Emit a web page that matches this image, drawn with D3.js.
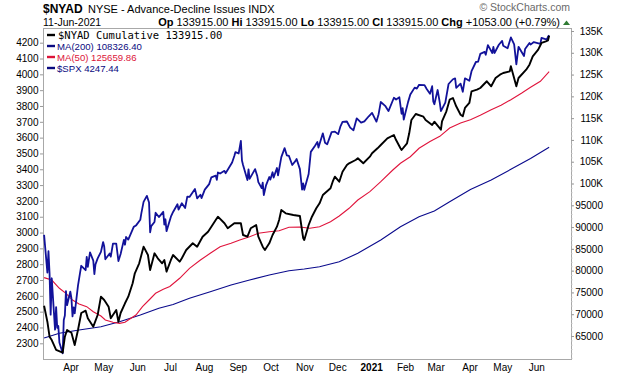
<!DOCTYPE html>
<html>
<head>
<meta charset="utf-8">
<script src="https://cdn.jsdelivr.net/npm/d3@7"></script>
<style>
  body { margin: 0; background: #fff; }
  svg { display: block; }
  text { font-family: "Liberation Sans", Arial, sans-serif; }
</style>
</head>
<body>
<svg id="chart"></svg>
<script>
const outerWidth = 620;
const outerHeight = 376;
const frame = { left: 43, right: 571, top: 28, bottom: 359 };

// S&P 500 closes (left axis)
const spx = [
  ["2020-03-06",2985],["2020-03-09",2747],["2020-03-10",2882],["2020-03-11",2741],["2020-03-12",2481],["2020-03-13",2711],
  ["2020-03-16",2386],["2020-03-17",2529],["2020-03-18",2398],["2020-03-19",2409],["2020-03-20",2305],["2020-03-23",2237],
  ["2020-03-24",2447],["2020-03-25",2476],["2020-03-26",2630],["2020-03-27",2541],["2020-03-30",2627],["2020-03-31",2585],
  ["2020-04-01",2470],["2020-04-02",2527],["2020-04-03",2489],["2020-04-06",2664],["2020-04-08",2750],["2020-04-09",2790],
  ["2020-04-13",2762],["2020-04-14",2846],["2020-04-15",2783],["2020-04-17",2875],["2020-04-20",2823],["2020-04-21",2737],
  ["2020-04-22",2799],["2020-04-24",2837],["2020-04-27",2878],["2020-04-29",2940],["2020-04-30",2912],["2020-05-01",2831],
  ["2020-05-05",2868],["2020-05-06",2848],["2020-05-08",2930],["2020-05-11",2930],["2020-05-13",2820],["2020-05-15",2864],
  ["2020-05-18",2954],["2020-05-19",2923],["2020-05-20",2972],["2020-05-22",2955],["2020-05-27",3036],["2020-05-29",3044],
  ["2020-06-02",3081],["2020-06-03",3123],["2020-06-05",3194],["2020-06-08",3232],["2020-06-10",3190],["2020-06-11",3002],
  ["2020-06-12",3041],["2020-06-15",3067],["2020-06-16",3125],["2020-06-19",3098],["2020-06-23",3131],["2020-06-24",3050],
  ["2020-06-25",3084],["2020-06-26",3009],["2020-06-30",3100],["2020-07-02",3130],["2020-07-06",3179],["2020-07-07",3145],
  ["2020-07-10",3185],["2020-07-13",3155],["2020-07-15",3227],["2020-07-17",3225],["2020-07-22",3276],["2020-07-24",3216],
  ["2020-07-27",3239],["2020-07-28",3218],["2020-07-31",3271],["2020-08-04",3306],["2020-08-06",3349],["2020-08-10",3360],
  ["2020-08-11",3333],["2020-08-12",3380],["2020-08-14",3373],["2020-08-18",3390],["2020-08-19",3375],["2020-08-21",3397],
  ["2020-08-25",3443],["2020-08-27",3484],["2020-08-28",3508],["2020-08-31",3500],["2020-09-02",3580],["2020-09-03",3455],
  ["2020-09-04",3427],["2020-09-08",3332],["2020-09-09",3399],["2020-09-10",3339],["2020-09-15",3401],["2020-09-17",3357],
  ["2020-09-18",3319],["2020-09-21",3281],["2020-09-22",3315],["2020-09-23",3237],["2020-09-25",3298],["2020-09-28",3351],
  ["2020-09-29",3335],["2020-10-01",3381],["2020-10-02",3348],["2020-10-05",3408],["2020-10-06",3361],["2020-10-09",3477],
  ["2020-10-12",3534],["2020-10-14",3488],["2020-10-16",3484],["2020-10-19",3427],["2020-10-22",3453],["2020-10-23",3465],
  ["2020-10-26",3401],["2020-10-28",3271],["2020-10-29",3310],["2020-10-30",3270],["2020-11-03",3370],["2020-11-05",3510],
  ["2020-11-09",3550],["2020-11-11",3573],["2020-11-12",3537],["2020-11-16",3627],["2020-11-18",3568],["2020-11-20",3558],
  ["2020-11-24",3635],["2020-11-27",3638],["2020-11-30",3622],["2020-12-02",3669],["2020-12-04",3699],["2020-12-08",3702],
  ["2020-12-11",3663],["2020-12-14",3647],["2020-12-17",3722],["2020-12-21",3695],["2020-12-24",3703],["2020-12-28",3735],
  ["2020-12-31",3756],["2021-01-04",3701],["2021-01-06",3748],["2021-01-08",3825],["2021-01-12",3801],["2021-01-15",3768],
  ["2021-01-20",3852],["2021-01-22",3841],["2021-01-25",3855],["2021-01-27",3751],["2021-01-28",3787],["2021-01-29",3714],
  ["2021-02-02",3826],["2021-02-04",3872],["2021-02-08",3916],["2021-02-10",3910],["2021-02-12",3934],["2021-02-17",3932],
  ["2021-02-19",3907],["2021-02-22",3877],["2021-02-24",3925],["2021-02-25",3829],["2021-02-26",3811],["2021-03-01",3901],
  ["2021-03-03",3820],["2021-03-04",3768],["2021-03-08",3821],["2021-03-11",3939],["2021-03-15",3969],["2021-03-17",3974],
  ["2021-03-18",3915],["2021-03-22",3941],["2021-03-24",3890],["2021-03-26",3975],["2021-03-30",3959],["2021-04-01",4020],
  ["2021-04-05",4078],["2021-04-07",4080],["2021-04-09",4129],["2021-04-13",4142],["2021-04-14",4124],["2021-04-16",4185],
  ["2021-04-20",4135],["2021-04-21",4174],["2021-04-22",4135],["2021-04-26",4187],["2021-04-29",4211],["2021-04-30",4181],
  ["2021-05-04",4165],["2021-05-07",4233],["2021-05-10",4189],["2021-05-12",4063],["2021-05-14",4174],["2021-05-19",4116],
  ["2021-05-20",4160],["2021-05-24",4198],["2021-05-25",4188],["2021-05-28",4204],["2021-06-03",4193],["2021-06-04",4230],
  ["2021-06-09",4220],["2021-06-10",4239],["2021-06-11",4247]
];

// NYSE cumulative advance-decline line (right axis)
const nyad = [
  ["2020-03-06",71950],["2020-03-09",68280],["2020-03-11",64840],["2020-03-13",64080],["2020-03-17",61790],["2020-03-23",61170],
  ["2020-03-25",64840],["2020-03-27",66380],["2020-03-31",65760],["2020-04-03",62940],["2020-04-06",66380],["2020-04-09",70280],
  ["2020-04-13",70810],["2020-04-15",69070],["2020-04-20",67140],["2020-04-24",69820],["2020-04-27",74020],["2020-04-30",73260],
  ["2020-05-04",71730],["2020-05-06",69070],["2020-05-11",70970],["2020-05-13",68280],["2020-05-15",70280],["2020-05-19",72510],
  ["2020-05-22",74020],["2020-05-26",77100],["2020-05-28",79390],["2020-06-01",81690],["2020-06-03",83590],["2020-06-05",85500],
  ["2020-06-09",83590],["2020-06-11",80150],["2020-06-15",83980],["2020-06-18",82840],["2020-06-22",81690],["2020-06-24",82450],
  ["2020-06-26",79760],["2020-06-30",82450],["2020-07-02",83590],["2020-07-08",82060],["2020-07-10",82840],["2020-07-14",84740],
  ["2020-07-20",86280],["2020-07-24",85500],["2020-07-29",87790],["2020-08-03",88940],["2020-08-06",90090],["2020-08-10",91620],
  ["2020-08-12",92380],["2020-08-18",90870],["2020-08-21",89720],["2020-08-27",90870],["2020-09-02",90870],["2020-09-04",88180],
  ["2020-09-08",87790],["2020-09-11",89720],["2020-09-16",90480],["2020-09-18",87790],["2020-09-22",85500],["2020-09-24",84740],
  ["2020-09-28",86280],["2020-10-01",88180],["2020-10-05",90090],["2020-10-07",91620],["2020-10-09",93920],["2020-10-13",93160],
  ["2020-10-20",92770],["2020-10-26",92540],["2020-10-29",87490],["2020-10-30",87030],["2020-11-03",90480],["2020-11-06",92380],
  ["2020-11-10",94310],["2020-11-13",95460],["2020-11-16",97360],["2020-11-23",98900],["2020-11-25",100410],["2020-11-27",101560],
  ["2020-12-01",100410],["2020-12-04",102710],["2020-12-08",104250],["2020-12-10",104640],["2020-12-16",105390],["2020-12-18",105790],
  ["2020-12-23",104640],["2020-12-29",106150],["2020-12-31",106930],["2021-01-05",108080],["2021-01-08",108840],["2021-01-14",110370],
  ["2021-01-20",111130],["2021-01-22",109980],["2021-01-26",108080],["2021-01-27",107690],["2021-02-01",109230],["2021-02-03",111520],
  ["2021-02-05",114570],["2021-02-09",115950],["2021-02-16",115330],["2021-02-18",114570],["2021-02-24",113430],["2021-02-26",114180],
  ["2021-03-04",112350],["2021-03-05",114280],["2021-03-09",116570],["2021-03-12",119230],["2021-03-15",119620],["2021-03-18",117720],
  ["2021-03-22",115790],["2021-03-24",115420],["2021-03-26",117330],["2021-03-30",118480],["2021-04-01",121160],["2021-04-06",121530],
  ["2021-04-09",121920],["2021-04-15",123460],["2021-04-19",122310],["2021-04-23",124210],["2021-04-27",124970],["2021-04-30",125360],
  ["2021-05-06",125750],["2021-05-07",126900],["2021-05-12",122310],["2021-05-14",124210],["2021-05-21",126120],["2021-05-24",127270],
  ["2021-05-27",129190],["2021-06-01",130710],["2021-06-04",132250],["2021-06-08",132640],["2021-06-10",132862],["2021-06-11",133915]
];

// 50-day moving average of $NYAD
const ma50 = [
  ["2020-03-06",78400],["2020-03-13",77850],["2020-03-20",75950],["2020-03-26",74800],["2020-04-01",73260],["2020-04-07",72350],
  ["2020-04-14",71730],["2020-04-20",70580],["2020-04-27",69590],["2020-05-01",68670],["2020-05-08",68150],["2020-05-14",67900],
  ["2020-05-19",68150],["2020-05-22",68670],["2020-05-29",69820],["2020-06-04",71730],["2020-06-10",73260],["2020-06-16",74800],
  ["2020-06-23",75720],["2020-06-29",76360],["2020-07-08",78250],["2020-07-17",80540],["2020-07-27",82450],["2020-08-05",83980],
  ["2020-08-14",85500],["2020-08-24",86280],["2020-09-01",87030],["2020-09-10",87790],["2020-09-18",88570],["2020-09-28",88940],
  ["2020-10-07",89170],["2020-10-16",89950],["2020-10-26",90020],["2020-11-04",89720],["2020-11-13",90090],["2020-11-23",91230],
  ["2020-12-01",92540],["2020-12-10",94310],["2020-12-18",96210],["2020-12-29",98120],["2021-01-08",100410],["2021-01-19",103100],
  ["2021-01-26",104640],["2021-02-04",106150],["2021-02-12",108080],["2021-02-22",109640],["2021-03-03",110830],["2021-03-12",112740],
  ["2021-03-22",113890],["2021-03-31",114640],["2021-04-09",115650],["2021-04-19",116940],["2021-04-28",117950],["2021-05-07",119230],
  ["2021-05-17",120770],["2021-05-25",122080],["2021-06-03",123460],["2021-06-11",125660]
];

// 200-day moving average of $NYAD
const ma200 = [
  ["2020-03-06",64540],["2020-03-20",65620],["2020-04-07",66380],["2020-04-27",67140],["2020-05-14",68280],["2020-06-02",69820],
  ["2020-06-19",71360],["2020-07-02",72230],["2020-07-17",73650],["2020-08-05",75170],["2020-08-24",76710],["2020-09-10",77850],
  ["2020-09-28",79000],["2020-10-16",79990],["2020-10-30",80380],["2020-11-13",80910],["2020-12-01",82050],["2020-12-18",83980],
  ["2021-01-08",87030],["2021-01-26",90090],["2021-02-12",92380],["2021-02-26",93690],["2021-03-12",95810],["2021-03-31",98620],
  ["2021-04-19",100800],["2021-05-07",103260],["2021-05-25",105760],["2021-06-11",108326]
];

const spxTicks = d3.range(2300, 4201, 100);
const nyadTicks = d3.range(65000, 135001, 5000);
const monthTicks = ["2020-04-01","2020-05-01","2020-06-01","2020-07-01","2020-08-01","2020-09-01","2020-10-01",
  "2020-11-01","2020-12-01","2021-01-01","2021-02-01","2021-03-01","2021-04-01","2021-05-01","2021-06-01"];
const monthLabels = ["Apr","May","Jun","Jul","Aug","Sep","Oct","Nov","Dec","2021","Feb","Mar","Apr","May","Jun"];

const legendItems = [
  { label: "$NYAD Cumulative 133915.00", color: "#000000", mono: true },
  { label: "MA(200) 108326.40", color: "#0a0a80" },
  { label: "MA(50) 125659.86", color: "#dc1438" },
  { label: "$SPX 4247.44", color: "#0a0a80" }
];

const parse = d3.timeParse("%Y-%m-%d");

const svg = d3.select("#chart")
  .attr("width", outerWidth)
  .attr("height", outerHeight)
  .attr("viewBox", `0 0 ${outerWidth} ${outerHeight}`);

const x = d3.scaleTime()
  .domain([parse("2020-03-05"), parse("2021-07-01")])
  .range([frame.left, frame.right]);
const yLeft = d3.scaleLinear().domain([2300, 4200]).range([343.3, 42.7]);
const yRight = d3.scaleLinear().domain([65000, 135000]).range([336, 31]);

svg.append("defs").append("clipPath").attr("id", "plot-clip")
  .append("rect")
  .attr("x", frame.left).attr("y", frame.top)
  .attr("width", frame.right - frame.left).attr("height", frame.bottom - frame.top);

// header
svg.append("text")
  .attr("x", 43).attr("y", 13)
  .style("font-size", "12px").style("font-weight", "bold")
  .text("$NYAD");
svg.append("text")
  .attr("x", 88).attr("y", 13)
  .style("font-size", "11px")
  .text("NYSE - Advance-Decline Issues INDX");
svg.append("text")
  .attr("x", 43).attr("y", 25.5)
  .style("font-size", "10.5px")
  .text("11-Jun-2021");
svg.append("text")
  .attr("x", 570).attr("y", 11)
  .attr("text-anchor", "end")
  .style("font-size", "10.5px").style("fill", "#6a6a6a")
  .text("© StockCharts.com");

const quote = svg.append("text")
  .attr("x", 560).attr("y", 26)
  .attr("text-anchor", "end")
  .style("font-size", "11px")
  .style("white-space", "pre");
[["Op", " 133915.00 "], ["Hi", " 133915.00 "], ["Lo", " 133915.00 "], ["Cl", " 133915.00 "], ["Chg", " +1053.00 (+0.79%)"]]
  .forEach(([k, v]) => {
    quote.append("tspan").style("font-weight", "bold").text(k);
    quote.append("tspan").text(v);
  });
svg.append("path")
  .attr("d", "M563,25L566.5,20.5L570,25Z")
  .attr("fill", "#2f7a32");

// frame
svg.append("rect")
  .attr("x", frame.left).attr("y", frame.top)
  .attr("width", frame.right - frame.left).attr("height", frame.bottom - frame.top)
  .attr("fill", "none").attr("stroke", "#a8a8a8").attr("stroke-width", 1)
  .attr("shape-rendering", "crispEdges");

// left axis (SPX)
const leftAxis = svg.append("g")
  .attr("transform", `translate(${frame.left},0)`)
  .call(d3.axisLeft(yLeft).tickValues(spxTicks).tickSize(3).tickPadding(1.5).tickFormat(d3.format("d")));
leftAxis.select(".domain").remove();
leftAxis.selectAll("line").attr("stroke", "#999");
leftAxis.selectAll("text").style("font-size", "10px").attr("fill", "#000")
  .style("font-family", "'Liberation Sans', Arial, sans-serif");

// right axis (NYAD)
const minorRight = svg.append("g")
  .attr("transform", `translate(${frame.right},0)`)
  .call(d3.axisRight(yRight).tickValues(d3.range(60000, 135001, 1000)).tickSize(1.5).tickFormat(""));
minorRight.select(".domain").remove();
minorRight.selectAll("line").attr("stroke", "#c4c4c4");

const rightAxis = svg.append("g")
  .attr("transform", `translate(${frame.right},0)`)
  .call(d3.axisRight(yRight).tickValues(nyadTicks).tickSize(3)
    .tickFormat(v => v >= 100000 ? (v / 1000) + "K" : String(v)));
rightAxis.select(".domain").remove();
rightAxis.selectAll("line").attr("stroke", "#999");
rightAxis.selectAll("text")
  .attr("x", 32).attr("text-anchor", "end")
  .style("font-size", "10px").attr("fill", "#000")
  .style("font-family", "'Liberation Sans', Arial, sans-serif");

// bottom axis (months)
const bottomAxis = svg.append("g")
  .attr("transform", `translate(0,${frame.bottom})`)
  .call(d3.axisBottom(x).tickValues(monthTicks.map(parse)).tickSize(0).tickPadding(5)
    .tickFormat((d, i) => monthLabels[i]));
bottomAxis.select(".domain").remove();
bottomAxis.selectAll("text")
  .attr("dx", -2)
  .style("font-size", "10px").attr("fill", "#000")
  .style("font-family", "'Liberation Sans', Arial, sans-serif")
  .style("font-weight", (d, i) => monthLabels[i] === "2021" ? "bold" : "normal");

// series
const plot = svg.append("g").attr("clip-path", "url(#plot-clip)");
const lineRight = d3.line().x(d => x(parse(d[0]))).y(d => yRight(d[1]));
const lineLeft = d3.line().x(d => x(parse(d[0]))).y(d => yLeft(d[1]));

plot.append("path").datum(ma200)
  .attr("fill", "none").attr("stroke", "#0a0a8c").attr("stroke-width", 1.1)
  .attr("d", lineRight);
plot.append("path").datum(ma50)
  .attr("fill", "none").attr("stroke", "#e0143c").attr("stroke-width", 1.1)
  .attr("d", lineRight);
plot.append("path").datum(spx)
  .attr("fill", "none").attr("stroke", "#12129a").attr("stroke-width", 1.8)
  .attr("stroke-linejoin", "round")
  .attr("d", lineLeft);
plot.append("path").datum(nyad)
  .attr("fill", "none").attr("stroke", "#000").attr("stroke-width", 1.9)
  .attr("stroke-linejoin", "round")
  .attr("d", lineRight);

// legend
const legend = svg.append("g");
legendItems.forEach((item, i) => {
  const cy = 35 + i * 11;
  legend.append("line")
    .attr("x1", 47).attr("x2", 55).attr("y1", cy).attr("y2", cy)
    .attr("stroke", item.color).attr("stroke-width", 2.4);
  legend.append("text")
    .attr("x", item.mono ? 58 : 57).attr("y", cy + 3.6)
    .style("font-size", item.mono ? "10.5px" : "9.6px")
    .style("font-family", item.mono ? "'DejaVu Sans Mono', monospace" : "'Liberation Sans', Arial, sans-serif")
    .attr("fill", item.color)
    .text(item.label);
});
</script>
</body>
</html>
